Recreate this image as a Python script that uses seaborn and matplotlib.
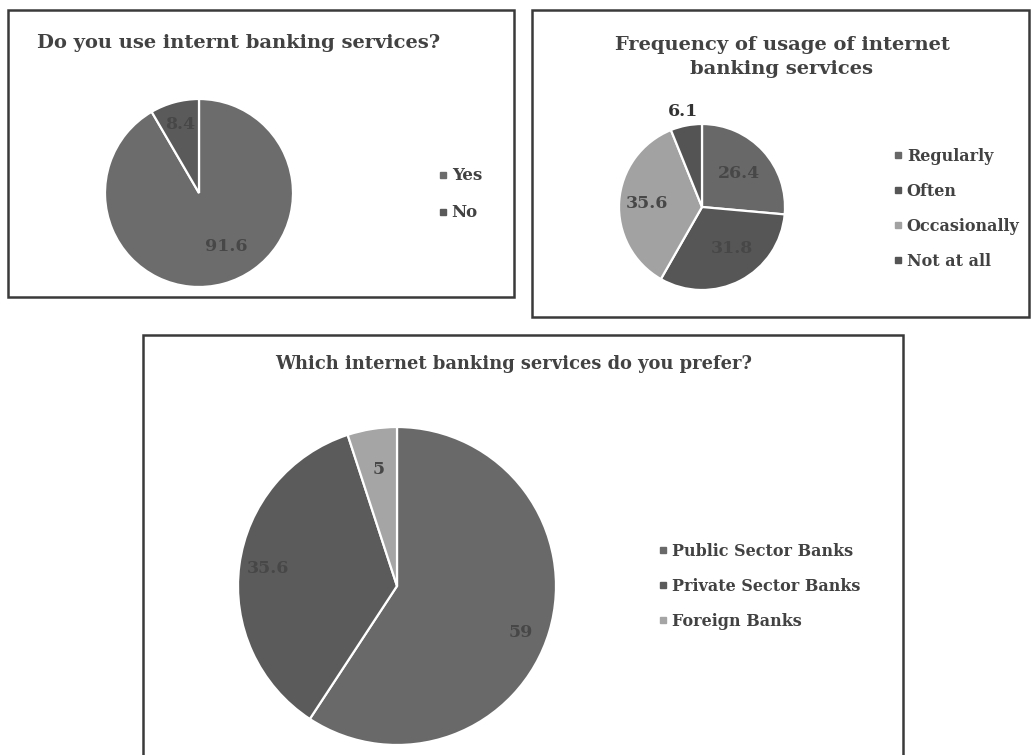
import matplotlib
matplotlib.use("Agg")
import numpy as np
import matplotlib.pyplot as plt
import seaborn as sns
from matplotlib.lines import Line2D
from matplotlib.patches import Rectangle

# Survey data (values in %)
use_labels = ["Yes", "No"]
use_values = [91.6, 8.4]

freq_labels = ["Regularly", "Often", "Occasionally", "Not at all"]
freq_values = [26.4, 31.8, 35.6, 6.1]

pref_labels = ["Public Sector Banks", "Private Sector Banks", "Foreign Banks"]
pref_values = [59, 35.6, 5]

sns.set_theme(style="white")
plt.rcParams['font.family'] = ['DejaVu Serif']

W, H = 1032, 755
fig = plt.figure(figsize=(W / 100, H / 100), dpi=100)

TEXT = "#424242"
BORDER = "#3a3a3a"


def fx(x):
    return x / W


def fy(y):
    return 1 - y / H


def panel_box(x0, y0, x1, y1):
    fig.patches.append(Rectangle((fx(x0), fy(y1)), fx(x1) - fx(x0), fy(y0) - fy(y1),
                                 transform=fig.transFigure, fill=False,
                                 edgecolor=BORDER, linewidth=1.8))


def draw_pie(cx, cy, r, values, colors, label_r, label_turn, fontsize, label_colors):
    ax = fig.add_axes([fx(cx - r), fy(cy + r), 2 * r / W, 2 * r / H])
    wedges, _ = ax.pie(values, colors=colors, startangle=90, counterclock=False,
                       wedgeprops=dict(edgecolor="white", linewidth=1.6))
    ax.set_xlim(-1, 1)
    ax.set_ylim(-1, 1)
    # value labels, nudged a little where Excel's "best fit" put them
    for w, v, d, t, c in zip(wedges, values, label_r, label_turn, label_colors):
        ang = np.deg2rad((w.theta1 + w.theta2) / 2 + t)
        ax.text(d * np.cos(ang), d * np.sin(ang), f"{v:g}", ha="center", va="center",
                fontsize=fontsize, fontweight="bold", color=c)
    return ax


def draw_legend(x, y, labels, colors, fontsize, spacing):
    handles = [Line2D([], [], marker="s", linestyle="", markersize=5, color=c) for c in colors]
    fig.legend(handles, labels, loc="upper left", bbox_to_anchor=(fx(x), fy(y)),
               frameon=False, handlelength=0.5, handletextpad=0.3, borderpad=0,
               labelspacing=spacing, prop=dict(size=fontsize, weight="bold"),
               labelcolor=TEXT)


# Panel 1
panel_box(8, 10, 514, 297)
fig.text(fx(37), fy(43), "Do you use internt banking services?", ha="left", va="center",
         fontsize=14, fontweight="bold", color=TEXT)
draw_pie(199, 193, 94, use_values, ["#6c6c6c", "#5a5a5a"], [0.64, 0.75], [12, 0],
         12.5, ["#474747", "#474747"])
draw_legend(430, 159, use_labels, ["#6c6c6c", "#5a5a5a"], 12, 1.2)

# Panel 2
panel_box(532, 10, 1029, 317)
fig.text(fx(782), fy(57), "Frequency of usage of internet\nbanking services", ha="center", va="center",
         fontsize=14, fontweight="bold", color=TEXT, linespacing=1.5)
draw_pie(702, 207, 83, freq_values, ["#686868", "#565656", "#a2a2a2", "#545454"],
         [0.6, 0.61, 0.66, 1.17], [0, 8, 0, 0], 12.5,
         ["#474747", "#474747", "#474747", "#333333"])
draw_legend(886, 140, freq_labels, ["#686868", "#565656", "#a2a2a2", "#545454"], 11.5, 1.12)

# Panel 3
panel_box(143, 335, 903, 760)
fig.text(fx(514), fy(364), "Which internet banking services do you prefer?", ha="center", va="center",
         fontsize=12.9, fontweight="bold", color=TEXT)
draw_pie(397, 586, 159, pref_values, ["#696969", "#5b5b5b", "#a5a5a5"],
         [0.83, 0.82, 0.74], [-4, 0, 0], 12.5, ["#474747", "#474747", "#474747"])
draw_legend(651, 535, pref_labels, ["#696969", "#5b5b5b", "#a5a5a5"], 11.5, 1.12)

fig.savefig("out.png", dpi=100)
